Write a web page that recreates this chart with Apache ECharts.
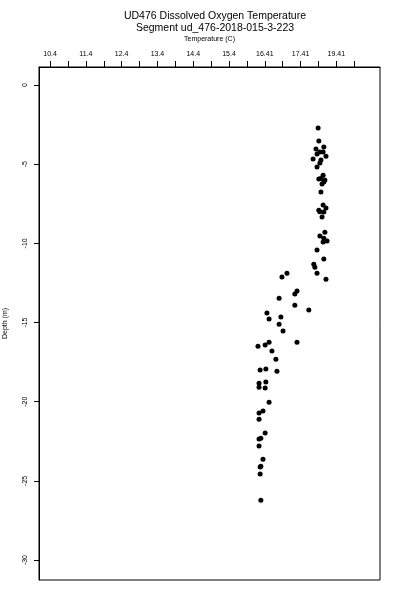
<!DOCTYPE html>
<html>
<head>
<meta charset="utf-8">
<script src="https://cdn.jsdelivr.net/npm/echarts@6/dist/echarts.min.js"></script>
<style>html,body{margin:0;padding:0;background:#fff}#c{width:400px;height:600px}</style>
</head>
<body>
<div id="c"></div>
<script>
var titleLines = ["UD476 Dissolved Oxygen Temperature", "Segment ud_476-2018-015-3-223"];
var xName = "Temperature (C)";
var yName = "Depth (m)";
var xTickValues = [10.4,10.9,11.4,11.9,12.4,12.9,13.4,13.9,14.4,14.9,15.4,15.9,16.4,16.9,17.4,17.9,18.4,18.9];
var xLabelValues = [10.4,11.4,12.4,13.4,14.4,15.4,16.4,17.4,18.4];
var xLabelTexts = ["10.4","11.4","12.4","13.4","14.4","15.4","16.41","17.41","19.41"];
var yTickValues = [0,-5,-10,-15,-20,-25,-30];
var temperature = [
17.89,17.91,17.83,18.05,17.94,17.86,18.03,18.11,17.75,17.97,17.94,17.86,17.97,18.08,
18.03,17.91,18.05,18.00,17.97,18.03,18.11,17.91,18.05,18.00,17.94,
18.08,17.94,18.05,18.14,18.03,17.86,18.05,17.77,17.80,17.86,18.11,
16.88,17.02,17.30,17.24,16.80,17.24,17.63,16.46,16.52,16.85,16.80,16.91,
17.30,16.52,16.41,16.21,16.60,16.71,16.27,16.43,16.74,16.24,16.43,16.24,16.41,
16.52,16.24,16.35,16.24,16.41,16.24,16.29,16.24,16.35,16.27,16.29,16.27,16.29
];
var depth = [
-2.72,-3.54,-4.04,-3.92,-4.23,-4.36,-4.23,-4.49,-4.67,-4.74,-4.93,-5.18,-5.90,-6.00,
-5.69,-5.94,-6.13,-6.25,-6.76,-7.58,-7.77,-7.90,-8.02,-8.34,-8.00,
-9.29,-9.54,-9.67,-9.85,-9.92,-10.42,-10.99,-11.31,-11.50,-11.88,-12.26,
-12.13,-11.88,-13.01,-13.20,-13.46,-13.90,-14.21,-14.40,-14.78,-14.65,-15.10,-15.54,
-16.24,-16.24,-16.42,-16.49,-16.80,-17.31,-18.00,-17.94,-18.07,-18.83,-18.76,-19.08,-19.14,
-20.03,-20.72,-20.59,-21.10,-21.98,-22.36,-22.30,-22.80,-23.63,-24.13,-24.07,-24.57,-26.22
];
var pts = temperature.map(function(t, i){ return [t, depth[i]]; });
var font = "'Liberation Sans', Arial, sans-serif";
var chart = echarts.init(document.getElementById('c'), null, {renderer: 'canvas'});
chart.setOption({
  animation: false,
  backgroundColor: '#fff',
  title: {
    text: titleLines.join('\n'), left: 210, textAlign: 'center', top: 5,
    textStyle: {fontFamily: font, fontSize: 10.5, fontWeight: 'normal', color: '#000', lineHeight: 12}
  },
  grid: {left: 39, right: 20, top: 67, bottom: 20, containLabel: false, outerBoundsMode: 'none',
    show: true, borderColor: '#000', borderWidth: 1, backgroundColor: 'transparent'},
  xAxis: {
    type: 'value', position: 'top', min: 10.09, max: 19.62,
    name: xName, nameLocation: 'middle', nameGap: 24,
    nameTextStyle: {fontFamily: font, fontSize: 7, color: '#000'},
    axisLine: {show: true, onZero: false, lineStyle: {color: '#000', width: 1}},
    axisTick: {show: true, length: 6, inside: false, customValues: xTickValues, lineStyle: {color: '#000'}},
    axisLabel: {fontFamily: font, fontSize: 7, color: '#000', margin: 9, customValues: xLabelValues,
      formatter: function(v){ var i = Math.round(v - 10.4); return xLabelTexts[i] || ''; }},
    splitLine: {show: false}
  },
  yAxis: {
    type: 'value', min: -31.26, max: 1.14,
    name: yName, nameLocation: 'middle', nameGap: 30, nameRotate: 90,
    nameTextStyle: {fontFamily: font, fontSize: 7, color: '#000'},
    axisLine: {show: true, onZero: false, lineStyle: {color: '#000', width: 1}},
    axisTick: {show: true, length: 5, customValues: yTickValues, lineStyle: {color: '#000'}},
    axisLabel: {fontFamily: font, fontSize: 7, color: '#000', margin: 10, rotate: 90, customValues: yTickValues},
    splitLine: {show: false}
  },
  series: [{
    type: 'scatter', data: pts, symbol: 'circle', symbolSize: 5,
    itemStyle: {color: '#000', opacity: 1}
  }]
});
</script>
</body>
</html>
